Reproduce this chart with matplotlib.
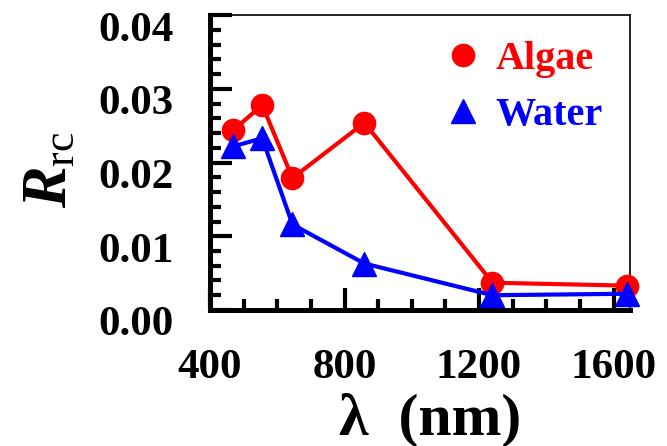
import matplotlib
matplotlib.use('Agg')
import matplotlib.pyplot as plt
from matplotlib.lines import Line2D
from matplotlib.ticker import MultipleLocator
import matplotlib.transforms as mtransforms

plt.rcParams['font.family'] = ['Liberation Serif', 'DejaVu Serif']
plt.rcParams['font.weight'] = 'bold'
plt.rcParams['mathtext.fontset'] = 'custom'
plt.rcParams['mathtext.it'] = 'Liberation Serif:style=italic:weight=bold'
plt.rcParams['mathtext.rm'] = 'Liberation Serif:weight=normal'

# MODIS band centres (nm)
wavelength = [469, 555, 645, 859, 1240, 1640]
algae = [0.0244, 0.0278, 0.0179, 0.0254, 0.0037, 0.0033]
water = [0.0222, 0.0233, 0.0116, 0.0063, 0.0020, 0.0022]
series_names = ['Algae', 'Water']

fig = plt.figure(figsize=(6.67, 4.46), dpi=100)
ax = fig.add_axes([0.315, 0.305, 0.63, 0.661])

ax.plot(wavelength, algae, color='red', lw=3, marker='o', ms=16, clip_on=False, zorder=3)
ax.plot(wavelength, water, color='blue', lw=3, marker='^', ms=17, clip_on=False, zorder=4)

ax.set_xlim(400, 1650)
ax.set_ylim(0, 0.04)
ax.xaxis.set_major_locator(MultipleLocator(400))
ax.xaxis.set_minor_locator(MultipleLocator(100))
ax.yaxis.set_major_locator(MultipleLocator(0.01))
ax.yaxis.set_minor_locator(MultipleLocator(0.002))
ax.yaxis.set_major_formatter(matplotlib.ticker.FormatStrFormatter('%.2f'))

ax.tick_params(which='both', direction='in', top=False, right=False, width=3, labelsize=31)
ax.tick_params(which='major', length=16)
ax.tick_params(which='minor', length=8)
ax.tick_params(axis='y', pad=26)
ax.tick_params(axis='x', pad=28)

for side in ['left', 'bottom']:
    ax.spines[side].set_linewidth(3.6)
for side in ['top', 'right']:
    ax.spines[side].set_linewidth(1.2)

# y tick labels sit a little below their ticks
offset = mtransforms.ScaledTranslation(0, -11 / 100, fig.dpi_scale_trans)
for lbl in ax.get_yticklabels():
    lbl.set_transform(lbl.get_transform() + offset)

ax.set_xlabel('λ  (nm)', fontsize=43, fontweight='bold')
ax.xaxis.set_label_coords(0.524, -0.28)
ax.set_ylabel(r'$R_{\mathrm{rc}}$', fontsize=45)
ax.yaxis.set_label_coords(-0.31, 0.475)

handles = [Line2D([], [], ls='none', marker='o', color='red', ms=16),
           Line2D([], [], ls='none', marker='^', color='blue', ms=17)]
ax.legend(handles, series_names, loc='upper right', bbox_to_anchor=(1.02, 1.035),
          frameon=False, prop={'size': 29, 'weight': 'bold'}, labelcolor=['red', 'blue'],
          handlelength=0.8, handletextpad=0.4, labelspacing=0.45)

fig.savefig('out.png', dpi=100)
